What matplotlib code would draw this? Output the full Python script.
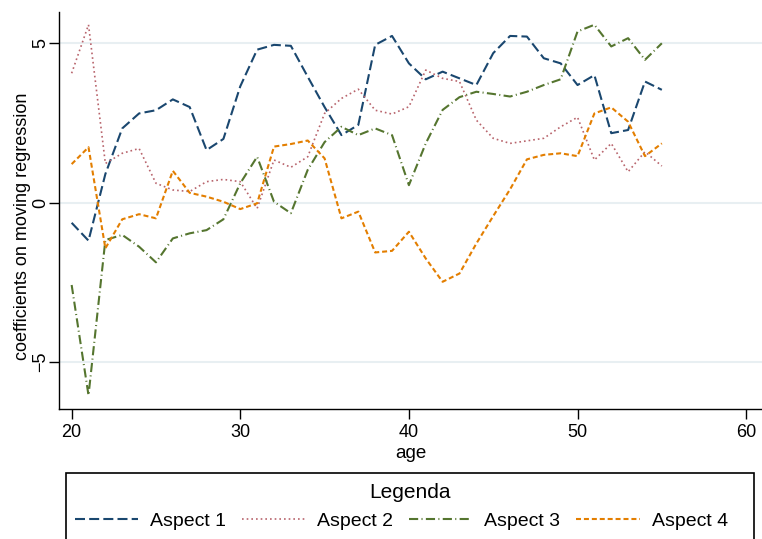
import matplotlib
matplotlib.use("Agg")
import matplotlib.pyplot as plt
from matplotlib.patches import Rectangle

# moving-regression coefficients by age, one series per aspect
age = list(range(20, 56))
aspect1 = [-0.63, -1.19, 0.9, 2.33, 2.8, 2.9, 3.24, 3.0, 1.65, 2.0,
           3.65, 4.8, 4.95, 4.92, 3.95, 3.0, 2.12, 2.44, 4.95, 5.23,
           4.37, 3.87, 4.11, 3.9, 3.69, 4.69, 5.23, 5.21, 4.53, 4.37,
           3.69, 4.0, 2.18, 2.28, 3.8, 3.54]
aspect2 = [4.06, 5.58, 1.23, 1.55, 1.7, 0.61, 0.4, 0.35, 0.66, 0.73,
           0.66, -0.18, 1.34, 1.11, 1.44, 2.8, 3.27, 3.56, 2.9, 2.78,
           3.01, 4.16, 3.9, 3.8, 2.59, 2.02, 1.86, 1.94, 2.02, 2.38,
           2.68, 1.34, 1.86, 0.97, 1.6, 1.15]
aspect3 = [-2.58, -6.04, -1.17, -1.01, -1.38, -1.87, -1.12, -0.96, -0.86, -0.52,
           0.61, 1.44, 0.03, -0.33, 1.03, 1.9, 2.38, 2.12, 2.33, 2.12,
           0.55, 1.86, 2.91, 3.31, 3.48, 3.41, 3.33, 3.48, 3.69, 3.87,
           5.37, 5.58, 4.9, 5.16, 4.48, 5.0]
aspect4 = [1.21, 1.74, -1.43, -0.52, -0.36, -0.49, 1.0, 0.31, 0.19, 0.03,
           -0.2, -0.02, 1.76, 1.84, 1.95, 1.39, -0.49, -0.28, -1.56, -1.51,
           -0.91, -1.75, -2.48, -2.22, -1.28, -0.42, 0.42, 1.36, 1.5, 1.55,
           1.46, 2.8, 2.99, 2.54, 1.46, 1.86]

series = [aspect1, aspect2, aspect3, aspect4]
labels = ["Aspect 1", "Aspect 2", "Aspect 3", "Aspect 4"]
colors = ["#1a476f", "#b8646c", "#55752f", "#e37e00"]
dashes = [(4.8, 2.0), (1.0, 1.8), (4.4, 1.6, 0.5, 1.6), (2.4, 1.4)]
widths = [1.5, 1.2, 1.5, 1.5]

x_ticks = [20, 30, 40, 50, 60]
y_ticks = [-5, 0, 5]

plt.rcParams["font.family"] = ["Liberation Sans", "DejaVu Sans"]

W, H = 762, 539
fig = plt.figure(figsize=(W / 100, H / 100), dpi=100)
fig.patch.set_facecolor("white")
ax = fig.add_axes([59 / W, 1 - 408.7 / H, (W - 59) / W, (408.7 - 11.7) / H])

handles = []
for vals, lab, col, ds, lw in zip(series, labels, colors, dashes, widths):
    (ln,) = ax.plot(age, vals, color=col, lw=lw, dashes=ds, label=lab)
    handles.append(ln)

ax.set_xlim(19.25, 60.94)
ax.set_ylim(-6.46, 5.99)
ax.set_xticks(x_ticks)
ax.set_yticks(y_ticks)
ax.yaxis.grid(True, color="#e8eff2", lw=1.5)
ax.set_axisbelow(True)

for side in ("top", "right"):
    ax.spines[side].set_visible(False)
for side in ("left", "bottom"):
    ax.spines[side].set_color("black")
    ax.spines[side].set_linewidth(1.0)

ax.tick_params(direction="out", length=7, width=1, color="black",
               labelsize=13, pad=4)
ax.tick_params(axis="y", labelrotation=90, pad=0)
for lbl in ax.get_yticklabels():
    lbl.set_va("center")

ax.set_xlabel("age", fontsize=13.5, labelpad=3)
ax.set_ylabel("coefficients on moving regression", fontsize=13)
ax.yaxis.set_label_coords(-0.04, 0.46)

# legend box spanning the plot width, with the title above a single row
fig.add_artist(Rectangle((66 / W, -0.05), 688 / W, 1.05 - 473 / H,
                         transform=fig.transFigure, facecolor="white",
                         edgecolor="black", lw=1.2, clip_on=False))
fig.text(410 / W, 1 - 492 / H, "Legenda", fontsize=15,
         ha="center", va="center")
fig.legend(handles, labels, loc="center left",
           bbox_to_anchor=(66 / W, 1 - 521 / H),
           ncol=4, fontsize=14, frameon=False,
           borderaxespad=0, borderpad=0.45, handlelength=3.25,
           handletextpad=0.62, columnspacing=0.82)

fig.savefig("out.png", dpi=100)
